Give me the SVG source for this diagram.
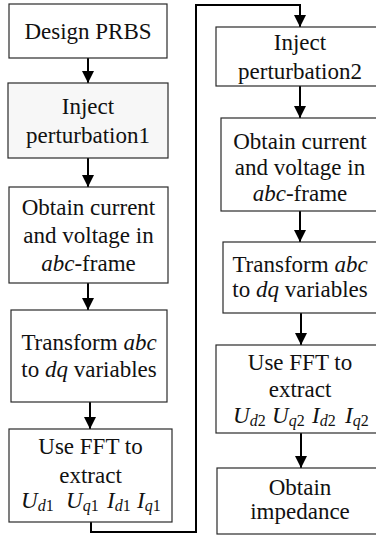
<svg xmlns="http://www.w3.org/2000/svg" width="376" height="535" viewBox="0 0 376 535">
  <defs>
    <marker id="ah" markerUnits="userSpaceOnUse" markerWidth="14" markerHeight="14" viewBox="0 0 14 14" refX="13" refY="7" orient="auto">
      <path d="M1,1 L13,7 L1,13 Z" fill="#000"/>
    </marker>
    <style>
      .box { fill: #ffffff; stroke: #2a2a2a; stroke-width: 1.2; }
      text { font-family: 'Liberation Serif', 'Tinos', 'Times New Roman', 'DejaVu Serif', serif; font-size: 23px; fill: #111; }
      .t { text-anchor: middle; }
      .i { font-style: italic; }
      .sub { font-size: 16px; }
      .c { fill: none; stroke: #000; stroke-width: 2; }
    </style>
  </defs>

  <g id="connectors">
    <line class="c" x1="88" y1="58" x2="88" y2="83" marker-end="url(#ah)"/>
    <line class="c" x1="88" y1="158" x2="88" y2="187" marker-end="url(#ah)"/>
    <line class="c" x1="88" y1="283" x2="88" y2="310" marker-end="url(#ah)"/>
    <line class="c" x1="90" y1="402" x2="90" y2="429" marker-end="url(#ah)"/>
    <path class="c" d="M91,522 V532 H196 V5 H300 V27" marker-end="url(#ah)"/>
    <line class="c" x1="300" y1="86" x2="300" y2="118" marker-end="url(#ah)"/>
    <line class="c" x1="300" y1="211" x2="300" y2="242" marker-end="url(#ah)"/>
    <line class="c" x1="301" y1="313" x2="301" y2="345" marker-end="url(#ah)"/>
    <line class="c" x1="301" y1="433" x2="301" y2="468" marker-end="url(#ah)"/>
  </g>

  <g id="design-prbs">
    <rect class="box" x="9" y="4" width="158" height="54"/>
    <text class="t" x="88" y="39">Design PRBS</text>
  </g>

  <g id="inject1">
    <rect class="box" x="8" y="83" width="160" height="75" style="fill:#f7f7f7"/>
    <text class="t" x="88" y="114">Inject</text>
    <text class="t" x="88" y="143">perturbation1</text>
  </g>

  <g id="obtain1">
    <rect class="box" x="9" y="187" width="159" height="96"/>
    <text class="t" x="88.5" y="215">Obtain current</text>
    <text class="t" x="88.5" y="243">and voltage in</text>
    <text class="t" x="88.5" y="271"><tspan class="i">abc</tspan>-frame</text>
  </g>

  <g id="transform1">
    <rect class="box" x="11" y="310" width="156" height="92"/>
    <text class="t" x="89" y="350">Transform <tspan class="i">abc</tspan></text>
    <text class="t" x="89" y="377">to <tspan class="i">dq</tspan> variables</text>
  </g>

  <g id="fft1">
    <rect class="box" x="9" y="429" width="163" height="93"/>
    <text class="t" x="90.5" y="454">Use FFT to</text>
    <text class="t" x="90.5" y="483">extract</text>
    <text x="21" y="508"><tspan class="i">U</tspan><tspan class="sub i" dy="3">d</tspan><tspan class="sub">1</tspan></text>
    <text x="66" y="508"><tspan class="i">U</tspan><tspan class="sub i" dy="3">q</tspan><tspan class="sub">1</tspan></text>
    <text x="107" y="508"><tspan class="i">I</tspan><tspan class="sub i" dy="3">d</tspan><tspan class="sub">1</tspan></text>
    <text x="137" y="508"><tspan class="i">I</tspan><tspan class="sub i" dy="3">q</tspan><tspan class="sub">1</tspan></text>
  </g>

  <g id="inject2">
    <rect class="box" x="216" y="27" width="168" height="59"/>
    <text class="t" x="300" y="50">Inject</text>
    <text class="t" x="300" y="79">perturbation2</text>
  </g>

  <g id="obtain2">
    <rect class="box" x="221" y="118" width="158" height="93"/>
    <text class="t" x="300" y="149">Obtain current</text>
    <text class="t" x="300" y="175">and voltage in</text>
    <text class="t" x="300" y="201"><tspan class="i">abc</tspan>-frame</text>
  </g>

  <g id="transform2">
    <rect class="box" x="223" y="242" width="156" height="71"/>
    <text class="t" x="300" y="272">Transform <tspan class="i">abc</tspan></text>
    <text class="t" x="300" y="297">to <tspan class="i">dq</tspan> variables</text>
  </g>

  <g id="fft2">
    <rect class="box" x="216" y="345" width="168" height="88"/>
    <text class="t" x="300" y="370">Use FFT to</text>
    <text class="t" x="300" y="397">extract</text>
    <text x="233" y="423"><tspan class="i">U</tspan><tspan class="sub i" dy="3">d</tspan><tspan class="sub">2</tspan></text>
    <text x="272" y="423"><tspan class="i">U</tspan><tspan class="sub i" dy="3">q</tspan><tspan class="sub">2</tspan></text>
    <text x="312" y="423"><tspan class="i">I</tspan><tspan class="sub i" dy="3">d</tspan><tspan class="sub">2</tspan></text>
    <text x="345" y="423"><tspan class="i">I</tspan><tspan class="sub i" dy="3">q</tspan><tspan class="sub">2</tspan></text>
  </g>

  <g id="impedance">
    <rect class="box" x="217" y="468" width="166" height="66"/>
    <text class="t" x="300" y="495">Obtain</text>
    <text class="t" x="300" y="519">impedance</text>
  </g>
</svg>
